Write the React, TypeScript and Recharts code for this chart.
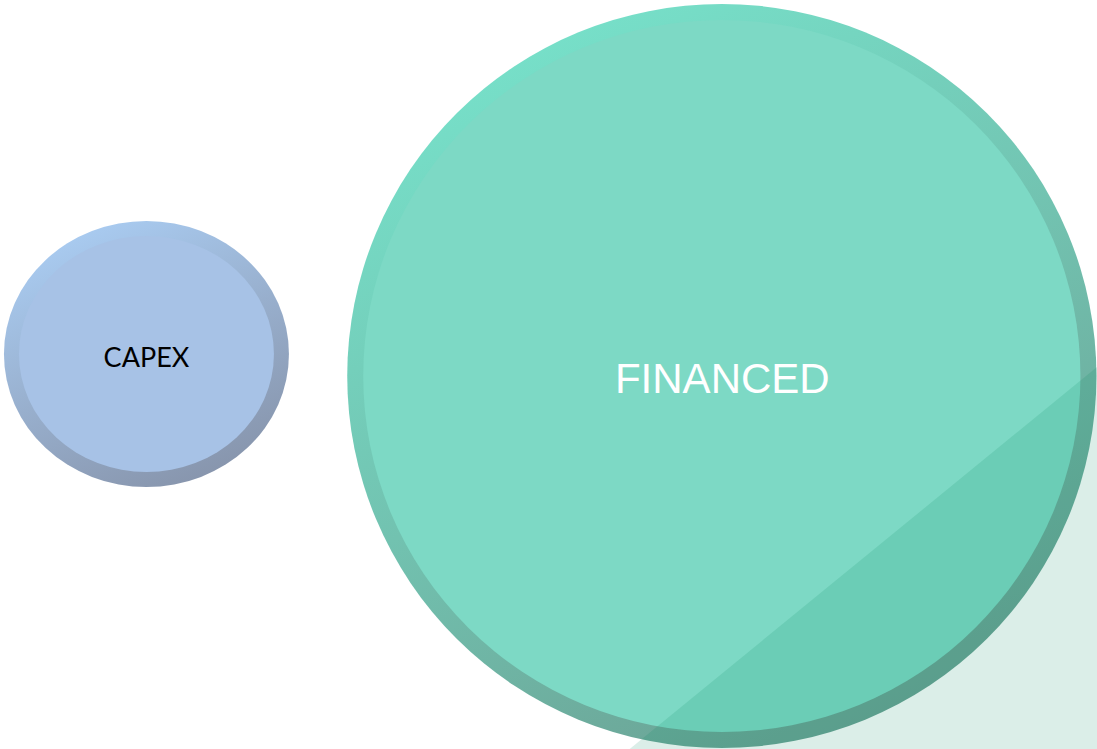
import { ScatterChart, Scatter, XAxis, YAxis, ZAxis, ReferenceArea } from 'recharts'

// bubble diagram: two sized circles on a hidden 0-100 layout grid
const bubbleNames = ['CAPEX', 'FINANCED']
const bubbleValues = [10, 73.5]
const bubbleX = [13.35, 65.8]
const bubbleY = [47.26, 50.2]

// decorative wedge in the lower right corner (layout units)
const wedgeX = [57.4, 100]
const wedgeY = [49.0, 100]

const data = bubbleNames.map((name, i) => ({
  name,
  value: bubbleValues[i],
  x: bubbleX[i],
  y: bubbleY[i],
}))

const MAX_R = 373.3

type BubbleStyle = {
  aspect: number
  ring: number
  fill: string
  stops: string[]
  color: string
  font: string
  fontSize: number
  dx: number
  dy: number
}

const bubbleStyles: Record<string, BubbleStyle> = {
  CAPEX: {
    aspect: 1.071,
    ring: 15,
    fill: '#a7c2e6',
    stops: ['#aacdf3', '#98afcd', '#8693aa'],
    color: '#000000',
    font: 'Lato, sans-serif',
    fontSize: 27,
    dx: 0,
    dy: 12.8,
  },
  FINANCED: {
    aspect: 1.007,
    ring: 16,
    fill: '#7dd9c5',
    stops: ['#77e2cb', '#72c2b0', '#6a9e91'],
    color: '#ffffff',
    font: '"Liberation Sans", Arial, sans-serif',
    fontSize: 42,
    dx: 0.5,
    dy: 17.3,
  },
}

function Bubble(props: any) {
  const { cx, cy, width, payload } = props
  const s = bubbleStyles[payload.name]
  const r = width / 2
  const rx = r * Math.sqrt(s.aspect)
  const ry = r / Math.sqrt(s.aspect)
  const id = `ring-${payload.name}`
  return (
    <g>
      <defs>
        <linearGradient id={id} x1="0.25" y1="0" x2="0.75" y2="1">
          <stop offset="0%" stopColor={s.stops[0]} />
          <stop offset="50%" stopColor={s.stops[1]} />
          <stop offset="100%" stopColor={s.stops[2]} />
        </linearGradient>
      </defs>
      <ellipse cx={cx} cy={cy} rx={rx} ry={ry} fill={`url(#${id})`} />
      <ellipse cx={cx} cy={cy} rx={rx - s.ring} ry={ry - s.ring} fill={s.fill} />
      <text
        x={cx + s.dx}
        y={cy + s.dy}
        textAnchor="middle"
        fill={s.color}
        fontFamily={s.font}
        fontSize={s.fontSize}
      >
        {payload.name}
      </text>
    </g>
  )
}

function Wedge(props: any) {
  const { x, y, width, height } = props
  const pts = `${x},${y + height} ${x + width},${y} ${x + width},${y + height}`
  return <polygon points={pts} fill="rgb(0,135,95)" fillOpacity={0.14} />
}

export default function App() {
  return (
    <div style={{ position: 'absolute', left: 0, top: 0, width: 1097, height: 749, background: '#fff' }}>
      <ScatterChart width={1097} height={749} margin={{ top: 0, right: 0, bottom: 0, left: 0 }}>
        <XAxis type="number" dataKey="x" domain={[0, 100]} hide />
        <YAxis type="number" dataKey="y" domain={[0, 100]} reversed hide />
        <ZAxis type="number" dataKey="value" domain={[0, 73.5]} range={[0, Math.PI * MAX_R * MAX_R]} />
        <Scatter data={data} shape={<Bubble />} isAnimationActive={false} />
        <ReferenceArea
          x1={wedgeX[0]}
          x2={wedgeX[1]}
          y1={wedgeY[0]}
          y2={wedgeY[1]}
          shape={<Wedge />}
          zIndex={700}
        />
      </ScatterChart>
    </div>
  )
}
